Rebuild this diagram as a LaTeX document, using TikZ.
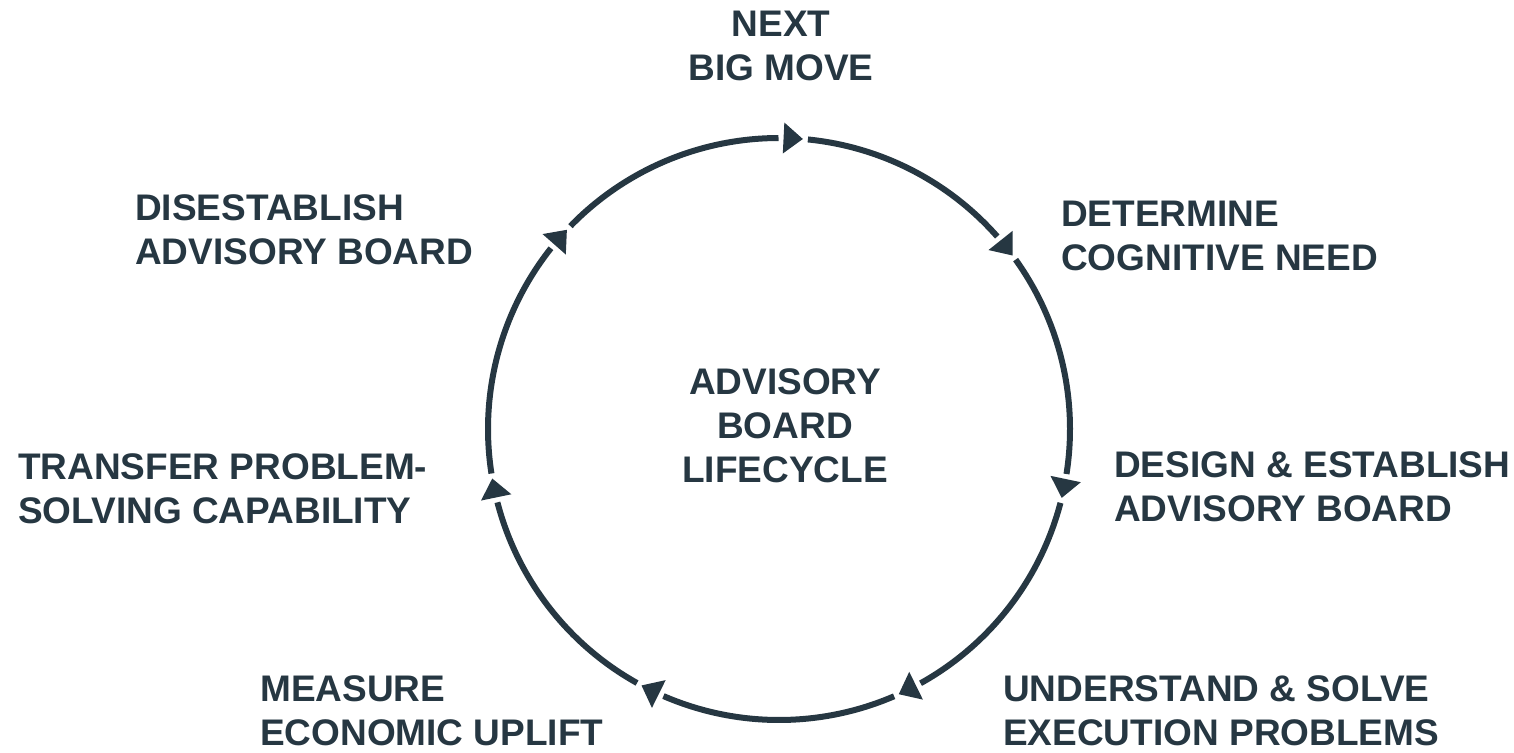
\documentclass[tikz,border=0pt]{standalone}
\usepackage{fontspec}
\setmainfont{Liberation Sans}
\usetikzlibrary{calc}
\definecolor{ink}{RGB}{38,55,66}
\begin{document}
\begin{tikzpicture}[x=1pt,y=1pt,
  ring/.style={draw=ink, line width=6pt},
  head/.style={fill=ink},
  label/.style={text=ink, font=\fontsize{37}{44}\selectfont\bfseries, inner sep=0pt, align=left},
]
\useasboundingbox (0,0) rectangle (1514,-752);
\coordinate (C) at (779,-429);
\def\R{291}
% arrowheads: tip angle measured clockwise from the top of the ring
\foreach \i/\p in {1/4.7,2/53.4,3/103.7,4/155.7,5/208.2,6/260.2,7/313.2}{
  \coordinate (t\i) at ($(C)+({90-\p}:\R)$);
  \coordinate (b\i) at ($(C)+({90-\p+3.8}:\R)$);
  \fill[head] (t\i) -- ($(b\i)!15.5pt!90:(t\i)$) -- ($(b\i)!15.5pt!-90:(t\i)$) -- cycle;
}
% ring segments between consecutive arrowheads
\foreach \a/\b in {4.7/53.4,53.4/103.7,103.7/155.7,155.7/208.2,208.2/260.2,260.2/313.2,313.2/364.7}{
  \draw[ring] ($(C)+({90-\a-1}:\R)$) arc[start angle={90-\a-1}, end angle={90-\b+4.8}, radius=\R pt];
}
% labels are anchored at the baseline of their last line
\node[label, align=center, anchor=base] (next) at (781,-81) {NEXT\\BIG MOVE};
\node[label, anchor=base west] (determine) at (1061,-270) {DETERMINE\\COGNITIVE NEED};
\node[label, anchor=base west] (design) at (1114,-521) {DESIGN \& ESTABLISH\\ADVISORY BOARD};
\node[label, anchor=base west] (understand) at (1003,-745) {UNDERSTAND \& SOLVE\\EXECUTION PROBLEMS};
\node[label, anchor=base west] (measure) at (260,-745) {MEASURE\\ECONOMIC UPLIFT};
\node[label, anchor=base west] (transfer) at (18,-523) {TRANSFER PROBLEM-\\SOLVING CAPABILITY};
\node[label, anchor=base west] (disestablish) at (135,-264) {DISESTABLISH\\ADVISORY BOARD};
\node[label, align=center, anchor=base] (center) at (785,-482) {ADVISORY\\BOARD\\LIFECYCLE};
\end{tikzpicture}
\end{document}
